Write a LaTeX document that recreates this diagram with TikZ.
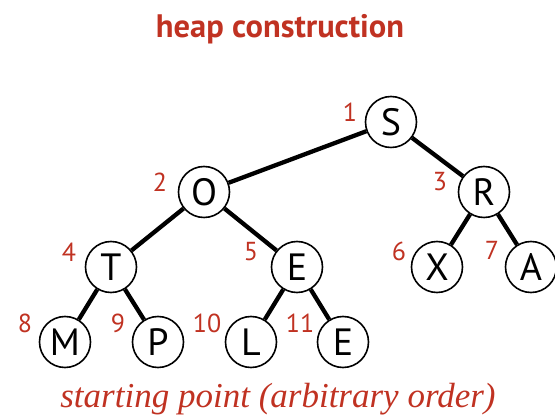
\documentclass[tikz,border=0pt]{standalone}
\usepackage{fontspec}
\setsansfont{PT Sans}
\setmainfont{Liberation Serif}
\definecolor{bookred}{RGB}{192,50,34}
\begin{document}
\begin{tikzpicture}[x=1pt,y=-1pt,
  key/.style={circle,draw=black,line width=1.6pt,fill=white,minimum size=51pt,inner sep=0pt,font=\sffamily\fontsize{38}{38}\selectfont},
  idx/.style={text=bookred,font=\sffamily\fontsize{26}{26}\selectfont,inner sep=0pt},
  link/.style={line width=4.3pt,black}]
\useasboundingbox (0,0) rectangle (555,419);
\node[text=bookred,font=\sffamily\bfseries\fontsize{32.5}{33}\selectfont,anchor=base] (title) at (280,38) {heap construction};
\node[key] (n1) at (391,122) {S};
\node[key] (n2) at (204,192) {O};
\node[key] (n3) at (484,192) {R};
\node[key] (n4) at (111,267) {T};
\node[key] (n5) at (297,267) {E};
\node[key] (n6) at (437,267) {X};
\node[key] (n7) at (531,267) {A};
\node[key] (n8) at (65,342) {M};
\node[key] (n9) at (158,342) {P};
\node[key] (n10) at (251,342) {L};
\node[key] (n11) at (343,342) {E};
\draw[link] (n1) -- (n2);
\draw[link] (n1) -- (n3);
\draw[link] (n2) -- (n4);
\draw[link] (n2) -- (n5);
\draw[link] (n3) -- (n6);
\draw[link] (n3) -- (n7);
\draw[link] (n4) -- (n8);
\draw[link] (n4) -- (n9);
\draw[link] (n5) -- (n10);
\draw[link] (n5) -- (n11);
\node[idx] (l1) at (350,112) {1};
\node[idx] (l2) at (160,182) {2};
\node[idx] (l3) at (440,182) {3};
\node[idx] (l4) at (69,252) {4};
\node[idx] (l5) at (251,252) {5};
\node[idx] (l6) at (399,251) {6};
\node[idx] (l7) at (492,250) {7};
\node[idx] (l8) at (25,323) {8};
\node[idx] (l9) at (118,323) {9};
\node[idx] (l10) at (207,323) {10};
\node[idx] (l11) at (300,323) {11};
\node[text=bookred,font=\rmfamily\itshape\fontsize{35}{35}\selectfont,anchor=base] (caption) at (278,408) {starting point (arbitrary order)};
\end{tikzpicture}
\end{document}
